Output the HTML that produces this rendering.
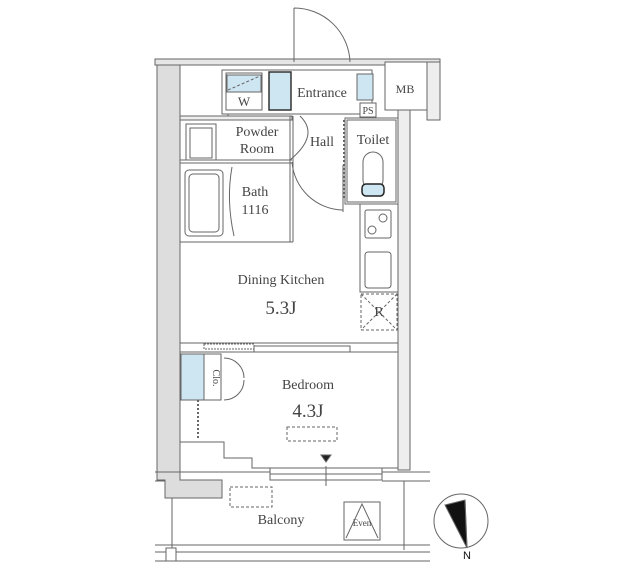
<!DOCTYPE html>
<html><head><meta charset="utf-8"><style>
html,body{margin:0;padding:0;background:#fff;}
svg{display:block}
text{font-family:"Liberation Serif",serif;fill:#444;}
</style></head><body>
<svg width="640" height="569" viewBox="0 0 640 569" xmlns="http://www.w3.org/2000/svg">
<g stroke="#666" stroke-width="1" fill="none">
<!-- top wall -->
<rect x="155" y="59" width="285" height="6" fill="#e6e6e6"/>
<!-- left wall gray -->
<path d="M157 65 H180 V480 H222 V498 H165 V480 H157 Z" fill="#ddd"/>
<path d="M180 118 H228 V112 H292" />
<!-- right wall -->
<rect x="398" y="65" width="12" height="405" fill="#eee"/>
<rect x="427" y="62" width="13" height="58" fill="#eee"/>
<!-- entry block area -->
<rect x="222" y="70" width="150" height="44" fill="#fff"/>
<rect x="226" y="73" width="36" height="37" fill="#fff"/>
<rect x="227" y="75" width="34" height="17" fill="#cde6f2"/>
<line x1="228" y1="90" x2="260" y2="76" stroke-dasharray="3,2"/>
<rect x="269" y="72" width="22" height="38" fill="#cde6f2" stroke="#333" stroke-width="1.5"/>
<rect x="357" y="74" width="16" height="26" fill="#cde6f2"/>
<rect x="360" y="103" width="16" height="14" fill="#fff"/>
<rect x="385" y="62" width="42" height="48" fill="#fff"/>
<!-- front door -->
<path d="M294 8 V62 M294 8 A56 56 0 0 1 350 62"/>
<!-- inner walls -->
<rect x="180" y="116" width="112" height="4" fill="#eee"/>
<line x1="180" y1="160" x2="292" y2="160"/><line x1="180" y1="163" x2="292" y2="163"/>
<line x1="290" y1="116" x2="290" y2="242"/>
<line x1="293" y1="116" x2="293" y2="242"/>
<line x1="180" y1="242" x2="293" y2="242"/>
<rect x="186" y="124" width="30" height="36"/><rect x="190" y="128" width="22" height="30"/>
<rect x="185" y="170" width="38" height="66" rx="4"/><rect x="189" y="174" width="30" height="58" rx="4"/>
<path d="M232 167 Q226 200 234 236"/>
<path d="M292 162 A52 52 0 0 0 343 210 M343 165 V212"/>
<path d="M300 116 Q320 135 290 160"/>
<!-- toilet -->
<rect x="345" y="118" width="53" height="86" fill="#fff"/>
<rect x="347" y="120" width="49" height="82"/>
<rect x="363" y="152" width="20" height="38" rx="10"/>
<rect x="362" y="184" width="22" height="12" rx="4" fill="#cde6f2" stroke="#222" stroke-width="1.5"/>
<line x1="344" y1="120" x2="344" y2="200" stroke-dasharray="2,2" stroke-width="2"/>
<!-- kitchen -->
<rect x="360" y="204" width="38" height="88"/>
<rect x="365" y="210" width="26" height="28" rx="2"/>
<circle cx="383" cy="218" r="4"/><circle cx="372" cy="230" r="4"/>
<rect x="365" y="252" width="26" height="36" rx="3"/>
<rect x="361" y="294" width="36" height="36" stroke-dasharray="3,2"/>
<line x1="361" y1="294" x2="397" y2="330" stroke-dasharray="3,2"/><line x1="397" y1="294" x2="361" y2="330" stroke-dasharray="3,2"/>
<!-- divider -->
<line x1="180" y1="343" x2="398" y2="343"/><line x1="180" y1="352" x2="398" y2="352"/>
<rect x="204" y="344" width="50" height="5" stroke-dasharray="2,1"/>
<rect x="254" y="346" width="96" height="6"/>
<!-- closet -->
<rect x="181" y="354" width="40" height="46"/>
<rect x="181" y="354" width="23" height="46" fill="#cde6f2"/>
<line x1="198" y1="400" x2="198" y2="440" stroke-dasharray="2,2" stroke-width="2"/>
<path d="M224 358 A20 20 0 0 1 244 378 M224 400 A20 20 0 0 0 244 380"/>
<!-- bedroom bottom -->
<path d="M180 442 H224 V458 H252 V468 H398"/>
<rect x="287" y="427" width="50" height="14" stroke-dasharray="3,2"/>
<rect x="270" y="468" width="112" height="12"/>
<line x1="270" y1="474" x2="382" y2="474"/>
<line x1="326" y1="466" x2="326" y2="486"/>
<path d="M321 455 L331 455 L326 462 Z" fill="#222"/>
<!-- balcony -->
<line x1="155" y1="472" x2="270" y2="472"/><line x1="382" y1="472" x2="430" y2="472"/>
<line x1="155" y1="481" x2="165" y2="481"/><line x1="382" y1="481" x2="430" y2="481"/>
<line x1="172" y1="498" x2="172" y2="548"/><line x1="404" y1="481" x2="404" y2="550"/>
<rect x="230" y="487" width="42" height="20" stroke-dasharray="3,2"/>
<rect x="344" y="502" width="36" height="38"/>
<path d="M346 538 L362 504 L378 538"/>
<line x1="155" y1="545" x2="430" y2="545"/><line x1="155" y1="552" x2="430" y2="552"/><line x1="155" y1="561" x2="430" y2="561"/>
<rect x="166" y="548" width="10" height="13" fill="#fff"/>
<!-- compass -->
<circle cx="461" cy="521" r="27"/>
<path d="M445 505 L465 500 L467 548 Z" fill="#111"/>
<line x1="465" y1="500" x2="467" y2="548"/>
</g>
<g font-size="14">
<text x="322" y="97" text-anchor="middle">Entrance</text>
<text x="244" y="106" text-anchor="middle" font-size="13">W</text>
<text x="405" y="93" text-anchor="middle" font-size="12">MB</text>
<text x="368" y="114" text-anchor="middle" font-size="10">PS</text>
<text x="257" y="136" text-anchor="middle">Powder</text>
<text x="257" y="153" text-anchor="middle">Room</text>
<text x="322" y="146" text-anchor="middle">Hall</text>
<text x="373" y="144" text-anchor="middle">Toilet</text>
<text x="255" y="196" text-anchor="middle">Bath</text>
<text x="255" y="214" text-anchor="middle">1116</text>
<text x="281" y="284" text-anchor="middle">Dining Kitchen</text>
<text x="281" y="314" text-anchor="middle" font-size="19">5.3J</text>
<text x="379" y="316" text-anchor="middle">R</text>
<text x="308" y="389" text-anchor="middle">Bedroom</text>
<text x="308" y="417" text-anchor="middle" font-size="19">4.3J</text>
<text x="281" y="524" text-anchor="middle">Balcony</text>
<text x="362" y="526" text-anchor="middle" font-size="9">Even</text>
<text x="467" y="559" text-anchor="middle" font-size="11" style="font-family:'Liberation Sans',sans-serif;fill:#111">N</text>
<text transform="translate(213,378) rotate(90)" text-anchor="middle" font-size="10">Clo.</text>
</g>
</svg>
</body></html>
